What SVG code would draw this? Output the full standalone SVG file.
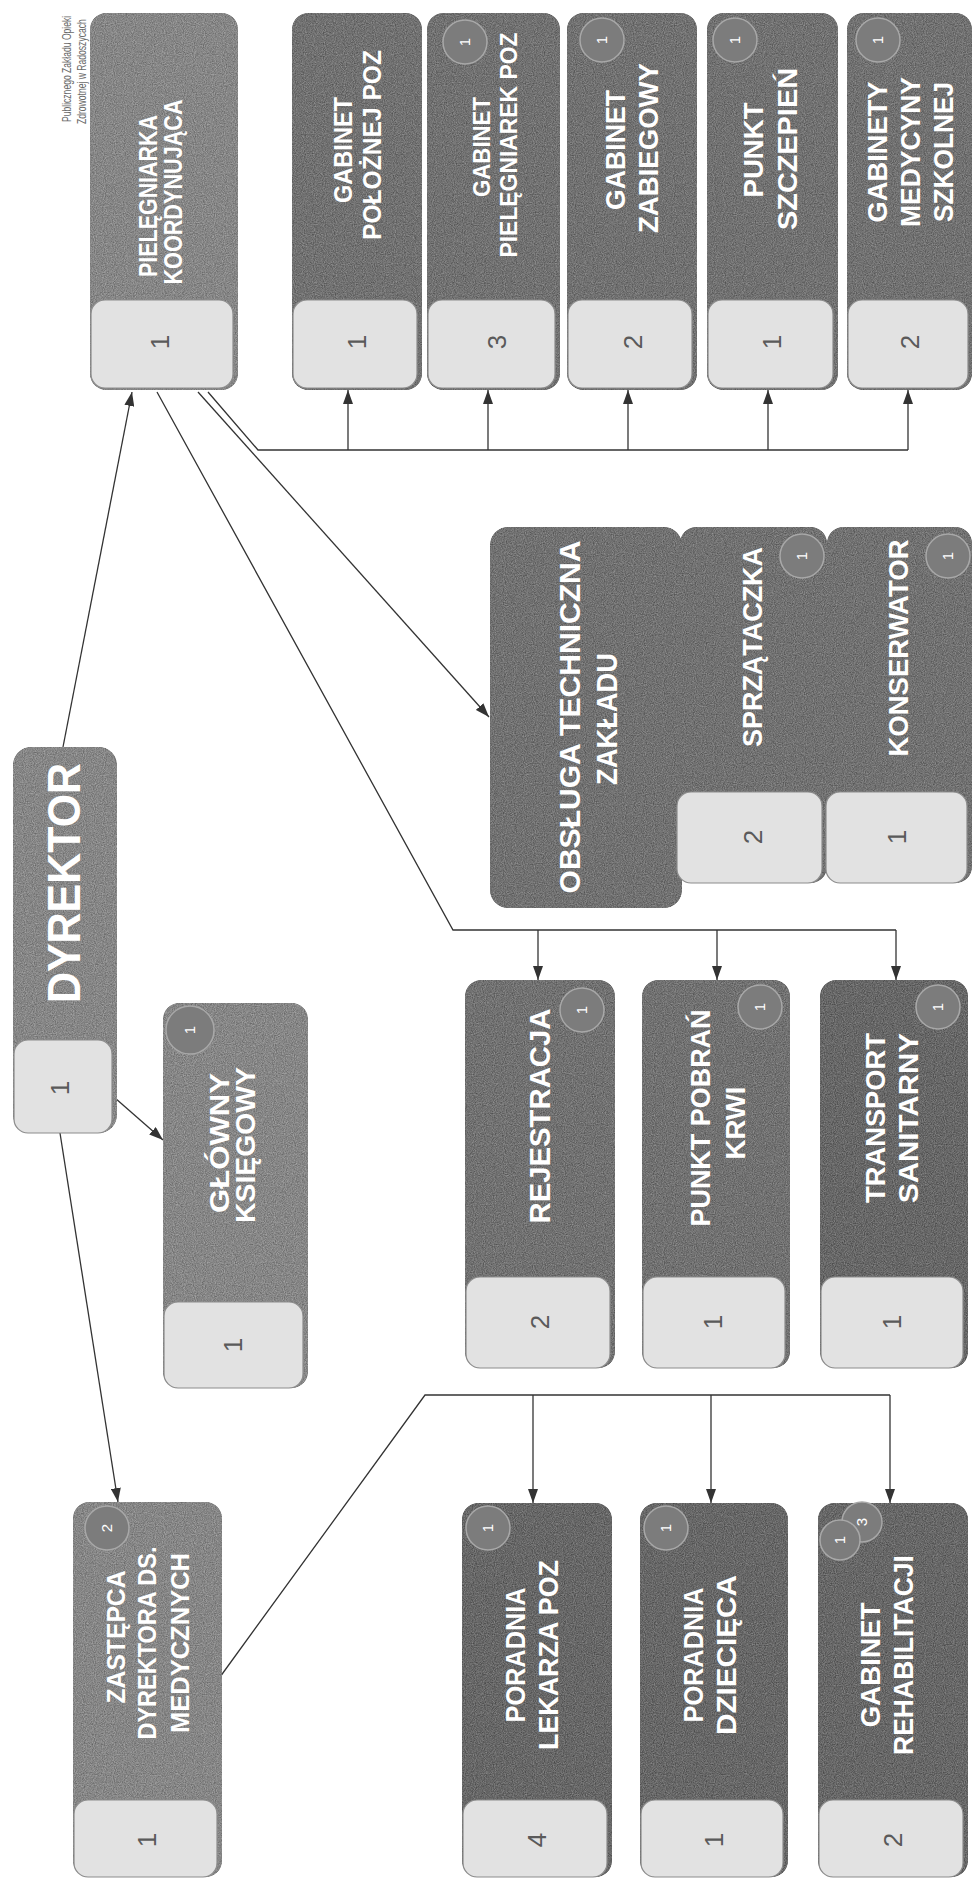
<svg xmlns="http://www.w3.org/2000/svg" width="973" height="1883" viewBox="0 0 973 1883">
<defs>
<marker id="arr" markerUnits="userSpaceOnUse" markerWidth="14" markerHeight="10" refX="14" refY="5" orient="auto">
<path d="M0,0 L14,5 L0,10 z" fill="#333"/>
</marker>
<filter id="grain" x="0" y="0" width="100%" height="100%" color-interpolation-filters="sRGB">
<feTurbulence type="fractalNoise" baseFrequency="0.9" numOctaves="2" seed="4" result="nz"/>
<feColorMatrix in="nz" type="matrix" values="1 0 0 0 0  1 0 0 0 0  1 0 0 0 0  0 0 0 0 1" result="gn"/>
<feComposite in="SourceGraphic" in2="gn" operator="arithmetic" k1="0" k2="1" k3="0.34" k4="-0.17" result="mix"/>
<feComposite in="mix" in2="SourceAlpha" operator="in"/>
</filter>
</defs>
<style>
.dk{fill:#717171;filter:url(#grain);}
.dd{fill:#676767;filter:url(#grain);}
.dl{fill:#868686;filter:url(#grain);}
.lt{fill:#e2e2e2;stroke:#8c8c8c;stroke-width:1.2;}
.t{font-family:"Liberation Sans",Arial,sans-serif;font-weight:bold;fill:#ffffff;text-anchor:middle;}
.n{font-family:"Liberation Sans",Arial,sans-serif;font-size:26px;fill:#5a5a5a;text-anchor:middle;}
.bc{fill:#7c7c7c;stroke:#a8a8a8;stroke-width:1.5;}
.bn{font-family:"Liberation Sans",Arial,sans-serif;font-size:15px;fill:#fff;text-anchor:middle;}
.hd{font-family:"Liberation Sans",Arial,sans-serif;font-size:13px;fill:#6a6a6a;}
.c{fill:none;stroke:#333;stroke-width:1.3;}
</style>
<rect width="973" height="1883" fill="#ffffff"/>

<g id="header">
<text class="hd" transform="translate(71,122) rotate(-90) scale(0.66,1)">Publicznego  Zakładu  Opieki</text>
<text class="hd" transform="translate(86,124) rotate(-90) scale(0.66,1)">Zdrowotnej w Radoszycach</text>
</g>

<g id="connectors">
<path class="c" d="M63,747 L132,392" marker-end="url(#arr)"/>
<path class="c" d="M115,1098 L163,1140" marker-end="url(#arr)"/>
<path class="c" d="M60,1133 L118,1502" marker-end="url(#arr)"/>
<path class="c" d="M198,392 L489,717" marker-end="url(#arr)"/>
<path class="c" d="M157,392 L453,930 L896,930"/>
<path class="c" d="M538,930 V980" marker-end="url(#arr)"/>
<path class="c" d="M717,930 V980" marker-end="url(#arr)"/>
<path class="c" d="M896,930 V980" marker-end="url(#arr)"/>
<path class="c" d="M208,392 L258,450 L908,450"/>
<path class="c" d="M348,450 V390" marker-end="url(#arr)"/>
<path class="c" d="M488,450 V390" marker-end="url(#arr)"/>
<path class="c" d="M628,450 V390" marker-end="url(#arr)"/>
<path class="c" d="M768,450 V390" marker-end="url(#arr)"/>
<path class="c" d="M908,450 V390" marker-end="url(#arr)"/>
<path class="c" d="M220,1677 L425,1395 L890,1395"/>
<path class="c" d="M533,1395 V1503" marker-end="url(#arr)"/>
<path class="c" d="M711,1395 V1503" marker-end="url(#arr)"/>
<path class="c" d="M890,1395 V1503" marker-end="url(#arr)"/>
</g>

<g id="pielegniarka">
<rect class="dl" x="90" y="13" width="148" height="377" rx="16"/>
<rect class="lt" x="91" y="300" width="142" height="88" rx="14"/>
<text class="t" font-size="26" transform="translate(157,196) rotate(-90)" textLength="162" lengthAdjust="spacingAndGlyphs">PIELĘGNIARKA</text>
<text class="t" font-size="26" transform="translate(182,192) rotate(-90)" textLength="185" lengthAdjust="spacingAndGlyphs">KOORDYNUJĄCA</text>
<text class="n" transform="translate(169,342) rotate(-90)">1</text>
</g>

<g id="gabinet-poloznej">
<rect class="dk" x="292" y="13" width="130" height="377" rx="16"/>
<rect class="lt" x="293" y="300" width="124" height="88" rx="14"/>
<text class="t" font-size="25" transform="translate(352,150) rotate(-90)" textLength="106" lengthAdjust="spacingAndGlyphs">GABINET</text>
<text class="t" font-size="25" transform="translate(381,145) rotate(-90)" textLength="190" lengthAdjust="spacingAndGlyphs">POŁOŻNEJ POZ</text>
<text class="n" transform="translate(366,342) rotate(-90)">1</text>
</g>

<g id="gabinet-pielegniarek">
<rect class="dk" x="427" y="13" width="133" height="377" rx="16"/>
<rect class="lt" x="428" y="300" width="127" height="88" rx="14"/>
<circle class="bc" cx="465" cy="42" r="22"/>
<text class="bn" transform="translate(470,42) rotate(-90)">1</text>
<text class="t" font-size="24" transform="translate(490,147) rotate(-90)" textLength="100" lengthAdjust="spacingAndGlyphs">GABINET</text>
<text class="t" font-size="24" transform="translate(517,145) rotate(-90)" textLength="225" lengthAdjust="spacingAndGlyphs">PIELĘGNIAREK POZ</text>
<text class="n" transform="translate(506,342) rotate(-90)">3</text>
</g>

<g id="gabinet-zabiegowy">
<rect class="dk" x="567" y="13" width="130" height="377" rx="16"/>
<rect class="lt" x="568" y="300" width="124" height="88" rx="14"/>
<circle class="bc" cx="602" cy="40" r="22"/>
<text class="bn" transform="translate(607,40) rotate(-90)">1</text>
<text class="t" font-size="28" transform="translate(625,150) rotate(-90)" textLength="120" lengthAdjust="spacingAndGlyphs">GABINET</text>
<text class="t" font-size="28" transform="translate(658,148) rotate(-90)" textLength="170" lengthAdjust="spacingAndGlyphs">ZABIEGOWY</text>
<text class="n" transform="translate(642,342) rotate(-90)">2</text>
</g>

<g id="punkt-szczepien">
<rect class="dk" x="707" y="13" width="131" height="377" rx="16"/>
<rect class="lt" x="708" y="300" width="125" height="88" rx="14"/>
<circle class="bc" cx="735" cy="40" r="22"/>
<text class="bn" transform="translate(740,40) rotate(-90)">1</text>
<text class="t" font-size="28" transform="translate(763,150) rotate(-90)" textLength="95" lengthAdjust="spacingAndGlyphs">PUNKT</text>
<text class="t" font-size="28" transform="translate(797,149) rotate(-90)" textLength="162" lengthAdjust="spacingAndGlyphs">SZCZEPIEŃ</text>
<text class="n" transform="translate(781,342) rotate(-90)">1</text>
</g>

<g id="gabinety-medycyny">
<rect class="dk" x="847" y="13" width="125" height="377" rx="16"/>
<rect class="lt" x="848" y="300" width="120" height="88" rx="14"/>
<circle class="bc" cx="878" cy="40" r="22"/>
<text class="bn" transform="translate(883,40) rotate(-90)">1</text>
<text class="t" font-size="27" transform="translate(887,152) rotate(-90)" textLength="141" lengthAdjust="spacingAndGlyphs">GABINETY</text>
<text class="t" font-size="27" transform="translate(920,152) rotate(-90)" textLength="150" lengthAdjust="spacingAndGlyphs">MEDYCYNY</text>
<text class="t" font-size="27" transform="translate(953,152) rotate(-90)" textLength="140" lengthAdjust="spacingAndGlyphs">SZKOLNEJ</text>
<text class="n" transform="translate(919,342) rotate(-90)">2</text>
</g>

<g id="obsluga">
<rect class="dk" x="490" y="527" width="192" height="381" rx="18"/>
<text class="t" font-size="30" transform="translate(580,717) rotate(-90)" textLength="353" lengthAdjust="spacingAndGlyphs">OBSŁUGA TECHNICZNA</text>
<text class="t" font-size="30" transform="translate(617,719) rotate(-90)" textLength="132" lengthAdjust="spacingAndGlyphs">ZAKŁADU</text>
</g>

<g id="sprzataczka">
<rect class="dk" x="680" y="527" width="147" height="356" rx="16"/>
<rect class="lt" x="677" y="792" width="145" height="91" rx="14"/>
<circle class="bc" cx="802" cy="556" r="22"/>
<text class="bn" transform="translate(807,556) rotate(-90)">1</text>
<text class="t" font-size="28" transform="translate(762,647) rotate(-90)" textLength="200" lengthAdjust="spacingAndGlyphs">SPRZĄTACZKA</text>
<text class="n" transform="translate(762,837) rotate(-90)">2</text>
</g>

<g id="konserwator">
<rect class="dk" x="827" y="527" width="145" height="356" rx="16"/>
<rect class="lt" x="826" y="792" width="141" height="91" rx="14"/>
<circle class="bc" cx="948" cy="556" r="22"/>
<text class="bn" transform="translate(953,556) rotate(-90)">1</text>
<text class="t" font-size="28" transform="translate(908,648) rotate(-90)" textLength="217" lengthAdjust="spacingAndGlyphs">KONSERWATOR</text>
<text class="n" transform="translate(906,837) rotate(-90)">1</text>
</g>

<g id="rejestracja">
<rect class="dk" x="465" y="980" width="150" height="388" rx="16"/>
<rect class="lt" x="466" y="1277" width="144" height="91" rx="14"/>
<circle class="bc" cx="582" cy="1010" r="22"/>
<text class="bn" transform="translate(587,1010) rotate(-90)">1</text>
<text class="t" font-size="29" transform="translate(550,1116) rotate(-90)" textLength="215" lengthAdjust="spacingAndGlyphs">REJESTRACJA</text>
<text class="n" transform="translate(549,1322) rotate(-90)">2</text>
</g>

<g id="punkt-pobran">
<rect class="dk" x="642" y="980" width="148" height="388" rx="16"/>
<rect class="lt" x="643" y="1277" width="142" height="91" rx="14"/>
<circle class="bc" cx="760" cy="1007" r="22"/>
<text class="bn" transform="translate(765,1007) rotate(-90)">1</text>
<text class="t" font-size="28" transform="translate(710,1118) rotate(-90)" textLength="217" lengthAdjust="spacingAndGlyphs">PUNKT POBRAŃ</text>
<text class="t" font-size="28" transform="translate(745,1123) rotate(-90)" textLength="73" lengthAdjust="spacingAndGlyphs">KRWI</text>
<text class="n" transform="translate(722,1322) rotate(-90)">1</text>
</g>

<g id="transport">
<rect class="dd" x="820" y="980" width="148" height="388" rx="16"/>
<rect class="lt" x="821" y="1277" width="142" height="91" rx="14"/>
<circle class="bc" cx="938" cy="1007" r="22"/>
<text class="bn" transform="translate(943,1007) rotate(-90)">1</text>
<text class="t" font-size="28" transform="translate(885,1118) rotate(-90)" textLength="170" lengthAdjust="spacingAndGlyphs">TRANSPORT</text>
<text class="t" font-size="28" transform="translate(918,1118) rotate(-90)" textLength="170" lengthAdjust="spacingAndGlyphs">SANITARNY</text>
<text class="n" transform="translate(901,1322) rotate(-90)">1</text>
</g>

<g id="dyrektor">
<rect class="dl" x="13" y="747" width="104" height="386" rx="18"/>
<rect class="lt" x="14" y="1040" width="98" height="93" rx="14"/>
<text class="t" font-size="46" transform="translate(80,883) rotate(-90)" textLength="240" lengthAdjust="spacingAndGlyphs">DYREKTOR</text>
<text class="n" transform="translate(69,1088) rotate(-90)">1</text>
</g>

<g id="glowny-ksiegowy">
<rect class="dl" x="163" y="1003" width="145" height="385" rx="16"/>
<rect class="lt" x="164" y="1302" width="139" height="86" rx="14"/>
<circle class="bc" cx="190" cy="1030" r="24"/>
<text class="bn" transform="translate(195,1030) rotate(-90)">1</text>
<text class="t" font-size="28" transform="translate(229,1143) rotate(-90)" textLength="140" lengthAdjust="spacingAndGlyphs">GŁÓWNY</text>
<text class="t" font-size="28" transform="translate(255,1145) rotate(-90)" textLength="156" lengthAdjust="spacingAndGlyphs">KSIĘGOWY</text>
<text class="n" transform="translate(242,1345) rotate(-90)">1</text>
</g>

<g id="zastepca">
<rect class="dl" x="73" y="1502" width="149" height="375" rx="16"/>
<rect class="lt" x="74" y="1800" width="143" height="77" rx="14"/>
<circle class="bc" cx="107" cy="1528" r="22"/>
<text class="bn" transform="translate(112,1528) rotate(-90)">2</text>
<text class="t" font-size="25" transform="translate(125,1637) rotate(-90)" textLength="133" lengthAdjust="spacingAndGlyphs">ZASTĘPCA</text>
<text class="t" font-size="25" transform="translate(156,1643) rotate(-90)" textLength="193" lengthAdjust="spacingAndGlyphs">DYREKTORA DS.</text>
<text class="t" font-size="25" transform="translate(189,1643) rotate(-90)" textLength="180" lengthAdjust="spacingAndGlyphs">MEDYCZNYCH</text>
<text class="n" transform="translate(156,1840) rotate(-90)">1</text>
</g>

<g id="poradnia-lekarza">
<rect class="dd" x="462" y="1503" width="150" height="374" rx="16"/>
<rect class="lt" x="463" y="1800" width="144" height="77" rx="14"/>
<circle class="bc" cx="488" cy="1528" r="22"/>
<text class="bn" transform="translate(493,1528) rotate(-90)">1</text>
<text class="t" font-size="28" transform="translate(525,1655) rotate(-90)" textLength="135" lengthAdjust="spacingAndGlyphs">PORADNIA</text>
<text class="t" font-size="28" transform="translate(558,1655) rotate(-90)" textLength="190" lengthAdjust="spacingAndGlyphs">LEKARZA POZ</text>
<text class="n" transform="translate(546,1840) rotate(-90)">4</text>
</g>

<g id="poradnia-dziecieca">
<rect class="dd" x="640" y="1503" width="148" height="374" rx="16"/>
<rect class="lt" x="641" y="1800" width="142" height="77" rx="14"/>
<circle class="bc" cx="666" cy="1528" r="22"/>
<text class="bn" transform="translate(671,1528) rotate(-90)">1</text>
<text class="t" font-size="28" transform="translate(703,1655) rotate(-90)" textLength="135" lengthAdjust="spacingAndGlyphs">PORADNIA</text>
<text class="t" font-size="28" transform="translate(736,1655) rotate(-90)" textLength="160" lengthAdjust="spacingAndGlyphs">DZIECIĘCA</text>
<text class="n" transform="translate(723,1840) rotate(-90)">1</text>
</g>

<g id="gabinet-rehabilitacji">
<rect class="dd" x="818" y="1503" width="150" height="374" rx="16"/>
<rect class="lt" x="819" y="1800" width="144" height="77" rx="14"/>
<circle class="bc" cx="862" cy="1522" r="20"/>
<text class="bn" transform="translate(867,1522) rotate(-90)">3</text>
<circle class="bc" cx="840" cy="1540" r="20"/>
<text class="bn" transform="translate(845,1540) rotate(-90)">1</text>
<text class="t" font-size="28" transform="translate(880,1665) rotate(-90)" textLength="125" lengthAdjust="spacingAndGlyphs">GABINET</text>
<text class="t" font-size="28" transform="translate(913,1655) rotate(-90)" textLength="200" lengthAdjust="spacingAndGlyphs">REHABILITACJI</text>
<text class="n" transform="translate(902,1840) rotate(-90)">2</text>
</g>
</svg>
